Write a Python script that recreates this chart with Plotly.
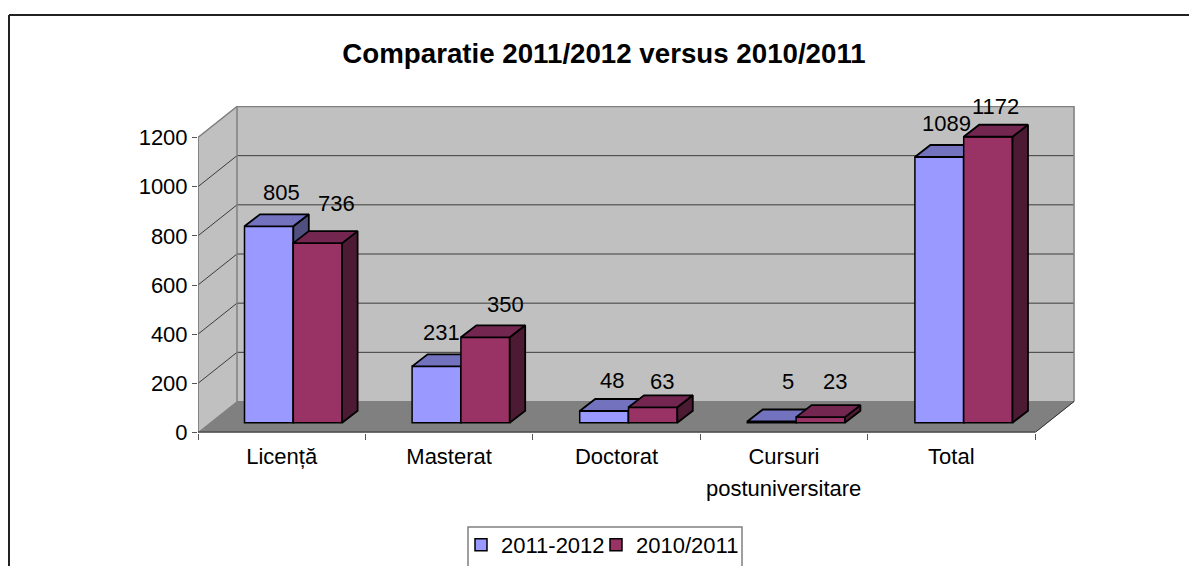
import plotly.graph_objects as go

categories = ["Licență", "Masterat", "Doctorat", "Cursuri", "Total"]
cat_second_line = ["", "", "", "postuniversitare", ""]
series_a_name = "2011-2012"
series_b_name = "2010/2011"
series_a = [805, 231, 48, 5, 1089]
series_b = [736, 350, 63, 23, 1172]
y_ticks = [0, 200, 400, 600, 800, 1000, 1200]
title_text = "Comparatie 2011/2012 versus 2010/2011"

# label nudges in px (x right, y up), separate from the data
a_shift = [(13, 34), (5, 34), (8, 30), (16, 40), (7, 33)]
b_shift = [(19, 40), (20, 33), (9, 26), (14, 36), (7, 30)]

# the figure runs past the bottom of the window: the reference's frame and legend are cut there
W, H = 1189, 600
FONT = "Liberation Sans"
FS = 22

# plot box in pixels
L, R, B, T = 198.0, 1076.0, 432.5, 106.0
dom_x = [L / W, R / W]
dom_y = [1 - B / H, 1 - T / H]

# front-plane axis scales
px_per_cat = 167.4
px_per_val = 295.0 / 1200
base_xrange = [0, (R - L) / px_per_cat]
base_yrange = [0, (B - T) / px_per_val]
wall_dx = 39 / px_per_cat
wall_dy = 31 / px_per_val
ncat = len(categories)
ymax = max(y_ticks)

# bar-plane scales
bar_px_per_cat = 167.6
bar_px_per_val = 0.244
x0_px, y0_px = 293.3, 422.7
bar_xrange = [(L - x0_px) / bar_px_per_cat, (R - x0_px) / bar_px_per_cat]
bar_yrange = [-(B - y0_px) / bar_px_per_val, (y0_px - T) / bar_px_per_val]
bar_w = 48.8 / bar_px_per_cat
depth_dx = 15.5 / bar_px_per_cat
depth_dy = 12.0 / bar_px_per_val


def poly(x, y, fill, line=None, lw=1.0, xa="x", ya="y"):
    return go.Scatter(
        x=x, y=y, mode="lines", fill="toself", fillcolor=fill,
        line=dict(color=line or fill, width=lw), hoverinfo="skip",
        showlegend=False, xaxis=xa, yaxis=ya,
    )


def stroke(x, y, color, lw):
    return go.Scatter(x=x, y=y, mode="lines", line=dict(color=color, width=lw),
                      hoverinfo="skip", showlegend=False, xaxis="x", yaxis="y")


fig = go.Figure()

# walls and floor
fig.add_trace(poly([0, wall_dx, wall_dx, 0], [0, wall_dy, ymax + wall_dy, ymax], "#C0C0C0"))
fig.add_trace(poly([wall_dx, ncat + wall_dx, ncat + wall_dx, wall_dx],
                   [wall_dy, wall_dy, ymax + wall_dy, ymax + wall_dy], "#C0C0C0"))
fig.add_trace(poly([0, ncat, ncat + wall_dx, wall_dx], [0, 0, wall_dy, wall_dy], "#808080"))

# gridlines on the walls
gx, gy = [], []
for v in y_ticks[1:-1]:
    gx += [0, wall_dx, ncat + wall_dx, None]
    gy += [v, v + wall_dy, v + wall_dy, None]
fig.add_trace(stroke(gx, gy, "#3c3c3c", 1))
# wall edges
fig.add_trace(stroke([0, wall_dx, ncat + wall_dx, ncat + wall_dx],
                     [ymax, ymax + wall_dy, ymax + wall_dy, wall_dy], "#808080", 1.5))
fig.add_trace(stroke([wall_dx, wall_dx], [wall_dy, ymax + wall_dy], "#808080", 1.5))
fig.add_trace(stroke([0, 0], [0, ymax], "#707070", 1.5))
fig.add_trace(stroke([0, wall_dx], [0, wall_dy], "#808080", 1))
fig.add_trace(stroke([ncat, ncat + wall_dx], [0, wall_dy], "#333333", 1))
fig.add_trace(stroke([0, ncat], [0, 0], "#333333", 2))


def add_series(name, values, offset, front, top, side, xa, ya, legend):
    idx = list(range(len(values)))
    fig.add_trace(go.Bar(
        x=idx, y=values, width=bar_w, offset=offset, name=name, legend=legend, showlegend=True,
        marker=dict(color=front, line=dict(color="#000000", width=1.5)),
        hoverinfo="skip", xaxis=xa, yaxis=ya,
    ))
    tx, ty, sx, sy = [], [], [], []
    for i, v in zip(idx, values):
        l = i + offset
        r = l + bar_w
        tx += [l, r, r + depth_dx, l + depth_dx, l, None]
        ty += [v, v, v + depth_dy, v + depth_dy, v, None]
        sx += [r, r + depth_dx, r + depth_dx, r, r, None]
        sy += [0, depth_dy, v + depth_dy, v, 0, None]
    fig.add_trace(poly(sx, sy, side, "#000000", 1.8, xa, ya))
    fig.add_trace(poly(tx, ty, top, "#000000", 1.8, xa, ya))


add_series(series_a_name, series_a, -bar_w, "#9999FF", "#7272BF", "#4F4F80", "x2", "y2", "legend")
add_series(series_b_name, series_b, 0, "#993366", "#732650", "#4D1A33", "x3", "y3", "legend2")

annotations = []
for i, (v, s) in enumerate(zip(series_a, a_shift)):
    annotations.append(dict(x=i - bar_w / 2, y=v, xref="x2", yref="y2", text=str(v),
                            showarrow=False, xshift=s[0], yshift=s[1],
                            font=dict(family=FONT, size=FS, color="#000000")))
for i, (v, s) in enumerate(zip(series_b, b_shift)):
    annotations.append(dict(x=i + bar_w / 2, y=v, xref="x3", yref="y3", text=str(v),
                            showarrow=False, xshift=s[0], yshift=s[1],
                            font=dict(family=FONT, size=FS, color="#000000")))
for i, t in enumerate(cat_second_line):
    if t:
        annotations.append(dict(x=i + 0.5, y=1 - 488 / H, xref="x", yref="paper", text=t,
                                showarrow=False, yanchor="middle",
                                font=dict(family=FONT, size=FS, color="#000000")))

hidden = dict(visible=False, fixedrange=True)
legend_common = dict(orientation="h", xanchor="left", y=1 - 524 / H, yanchor="top",
                     bgcolor="rgba(0,0,0,0)", borderwidth=0,
                     font=dict(family=FONT, size=FS), itemclick=False, itemdoubleclick=False)
fig.update_layout(
    width=W, height=H, margin=dict(l=0, r=0, t=0, b=0, autoexpand=False),
    paper_bgcolor="#FFFFFF", plot_bgcolor="rgba(0,0,0,0)",
    font=dict(family=FONT, size=FS, color="#000000"),
    barmode="overlay",
    title=dict(text="<b>" + title_text + "</b>", x=604 / W, xanchor="center",
               y=1 - 53 / H, yanchor="middle",
               font=dict(family=FONT, size=27.7, color="#000000")),
    xaxis=dict(domain=dom_x, range=base_xrange, showgrid=False, zeroline=False, showline=False,
               tickmode="array", tickvals=[i + 0.5 for i in range(ncat)], ticktext=categories,
               ticks="", tickfont=dict(family=FONT, size=FS), ticklabelstandoff=8,
               minor=dict(tickmode="array", tickvals=list(range(ncat + 1)), ticks="outside",
                          ticklen=6, tickcolor="#555555", tickwidth=1, showgrid=False),
               fixedrange=True, anchor="y"),
    yaxis=dict(domain=dom_y, range=base_yrange, showgrid=False, zeroline=False, showline=False,
               tickmode="array", tickvals=y_ticks, ticks="outside", ticklen=5,
               tickcolor="#555555", tickwidth=1, tickfont=dict(family=FONT, size=FS),
               fixedrange=True, anchor="x"),
    xaxis2=dict(domain=dom_x, range=bar_xrange, overlaying="x", anchor="y2", **hidden),
    yaxis2=dict(domain=dom_y, range=bar_yrange, overlaying="y", anchor="x2", **hidden),
    xaxis3=dict(domain=dom_x, range=bar_xrange, overlaying="x", anchor="y3", **hidden),
    yaxis3=dict(domain=dom_y, range=bar_yrange, overlaying="y", anchor="x3", **hidden),
    legend=dict(x=461 / W, **legend_common),
    legend2=dict(x=596 / W, **legend_common),
    shapes=[
        dict(type="line", xref="paper", yref="paper", x0=9 / W, x1=1, y0=1 - 15 / H, y1=1 - 15 / H,
             line=dict(color="#222222", width=2)),
        dict(type="line", xref="paper", yref="paper", x0=9 / W, x1=9 / W, y0=0, y1=1 - 15 / H,
             line=dict(color="#222222", width=2)),
        dict(type="rect", xref="paper", yref="paper", x0=468 / W, x1=742 / W, y0=0, y1=1 - 527 / H,
             line=dict(color="#808080", width=1.5)),
    ],
    annotations=annotations,
    hovermode=False,
)

fig.write_html("out.html", config=dict(displayModeBar=False),
               post_script="document.body.style.margin='0';document.documentElement.style.overflow='hidden';")
